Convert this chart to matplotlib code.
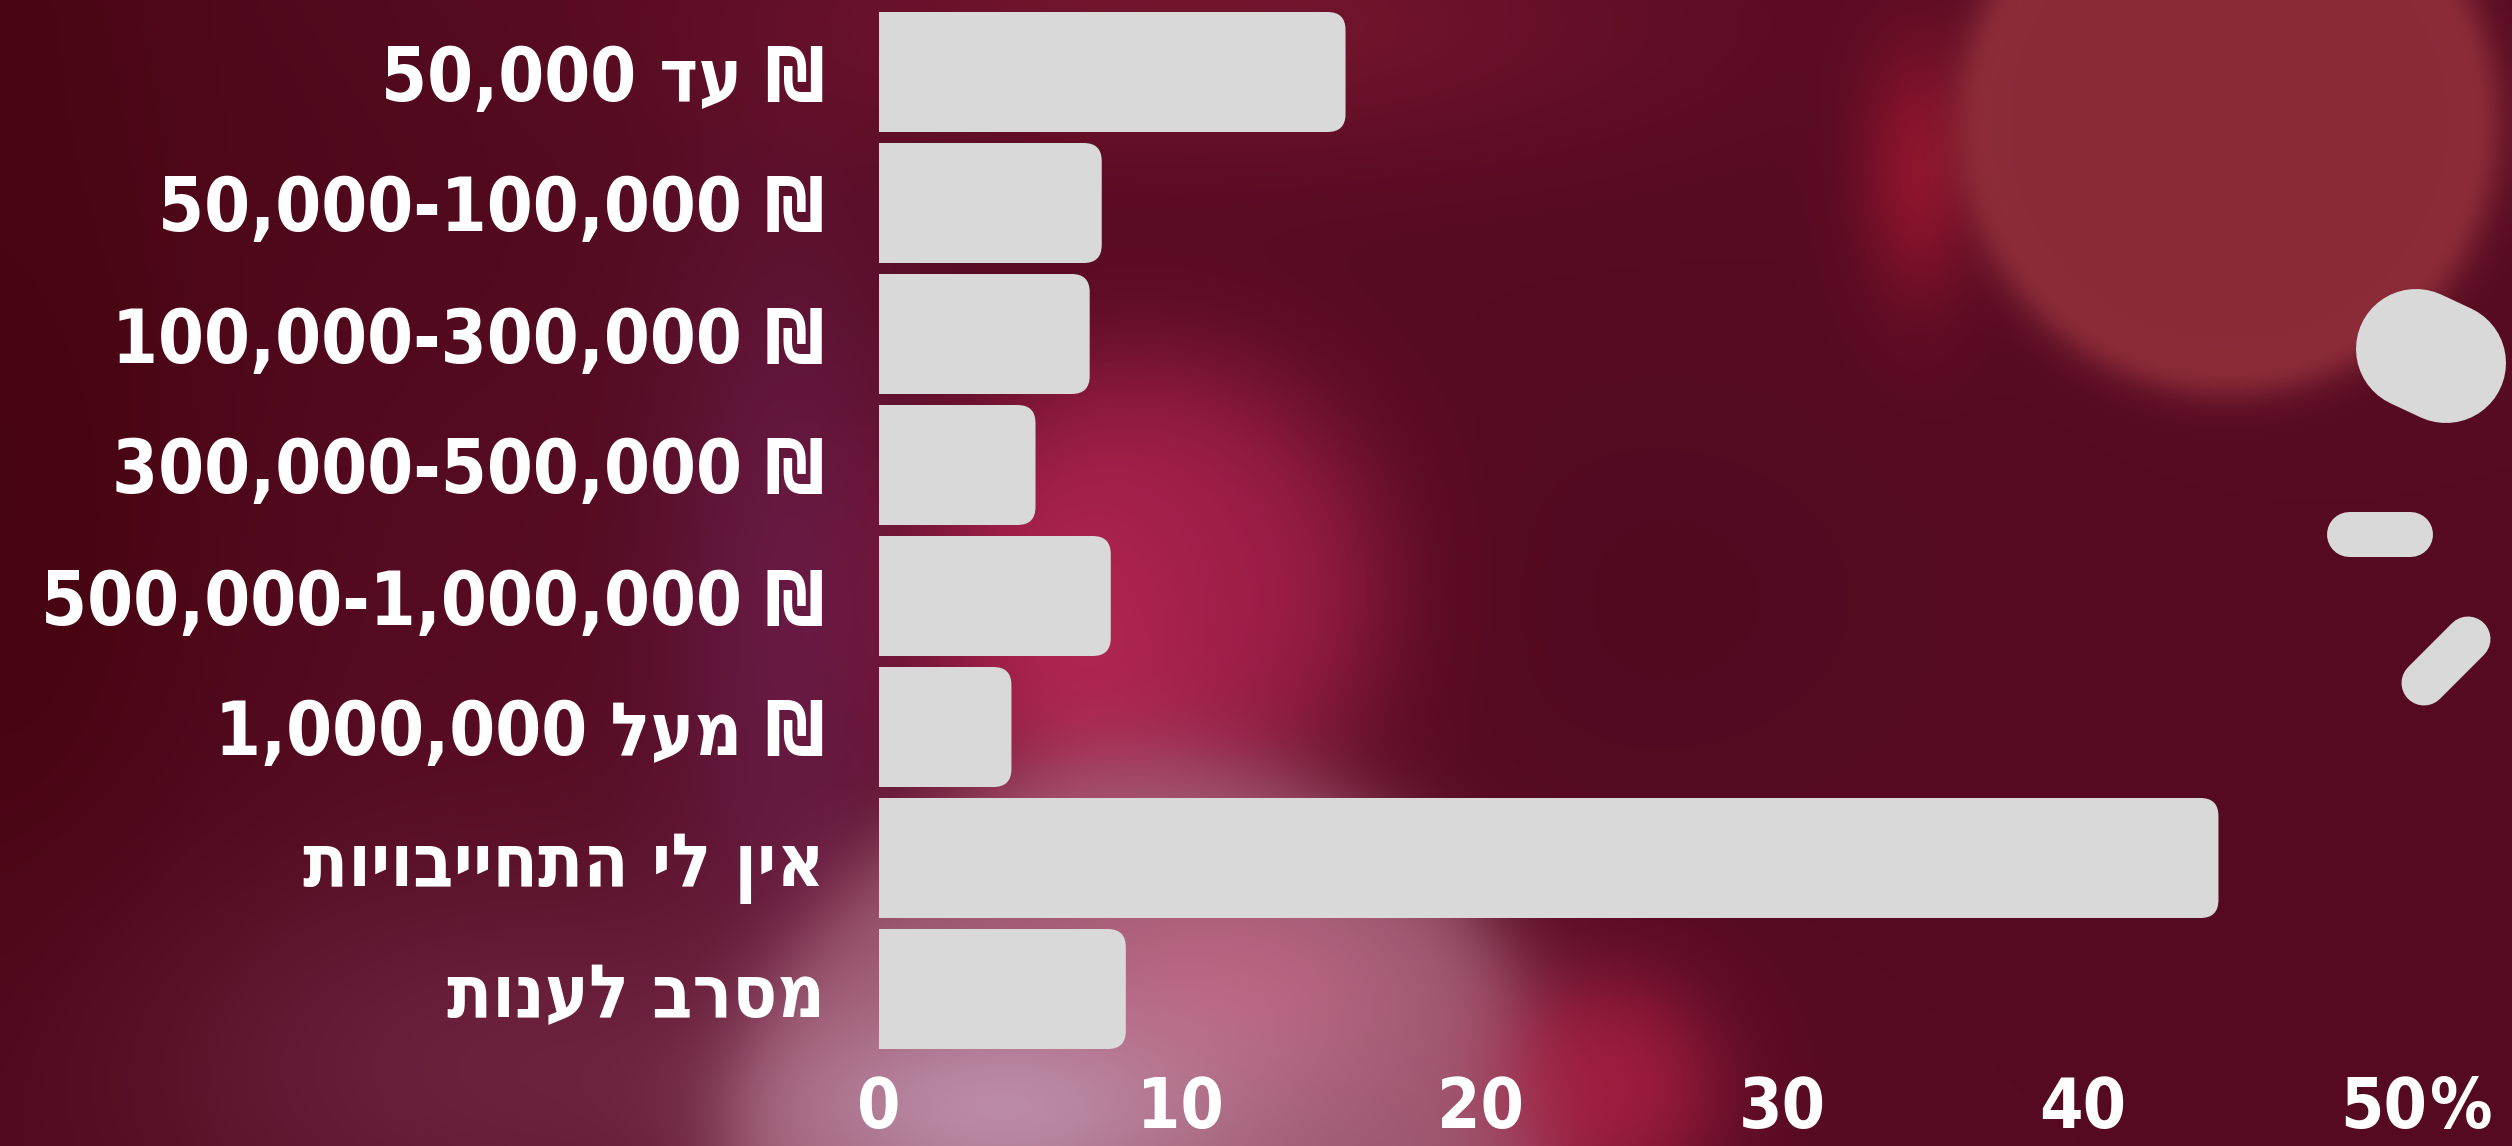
import numpy as np
import matplotlib.pyplot as plt
from matplotlib.patches import FancyBboxPatch
from matplotlib.colors import to_rgb

# labels are stored in visual (left-to-right) order, matplotlib does no bidi
labels = [
    '50,000 דע ₪',
    '50,000-100,000 ₪',
    '100,000-300,000 ₪',
    '300,000-500,000 ₪',
    '500,000-1,000,000 ₪',
    '1,000,000 לעמ ₪',
    'תויובייחתה יל ןיא',
    'תונעל ברסמ',
]
values = [15.5, 7.4, 7.0, 5.2, 7.7, 4.4, 44.5, 8.2]
xticks = [0, 10, 20, 30, 40, 50]

W, H = 2512, 1146
bar_color = '#d9d9d9'
font = dict(family=['DejaVu Sans'], weight='bold', stretch='condensed')

fig = plt.figure(figsize=(W / 100, H / 100), dpi=100)

# ---- background (bokeh style) ----
bg = fig.add_axes([0, 0, 1, 1])
gx, gy = np.meshgrid(np.linspace(0, W, 420), np.linspace(0, H, 192))
img = np.zeros(gx.shape + (3,)) + to_rgb('#560b22')

def mix(w, color):
    global img
    img = img * (1 - w[..., None]) + np.array(to_rgb(color)) * w[..., None]

def blob(cx, cy, sx, sy, color, a):
    mix(a * np.exp(-(((gx - cx) / sx) ** 2 + ((gy - cy) / sy) ** 2)), color)

def disk(cx, cy, r, color, a, soft=12):
    d = np.hypot(gx - cx, gy - cy)
    mix(a / (1 + np.exp((d - r) / soft)), color)

blob(0, 400, 260, 900, '#44020e', 0.8)
blob(300, 150, 400, 250, '#4c0818', 0.5)
blob(790, 620, 130, 420, '#6e2050', 0.7)
blob(1200, 20, 450, 130, '#841a34', 0.65)
blob(1650, 600, 260, 200, '#500820', 0.6)
disk(1150, 590, 220, '#ac2250', 0.85, soft=40)
blob(1080, 650, 110, 180, '#bc2a58', 0.55)
blob(520, 1070, 380, 200, '#7a3050', 0.6)
disk(1150, 1180, 420, '#ac6a82', 0.8, soft=25)
blob(1220, 1000, 200, 120, '#d07090', 0.55)
blob(1000, 1110, 220, 100, '#c49ab5', 0.75)
disk(1610, 1090, 100, '#b02045', 0.8, soft=30)
blob(1920, 170, 60, 130, '#a01830', 0.75)
disk(2231, 121, 266, '#a23a42', 0.9)
disk(2231, 121, 252, '#8a2a38', 1.0)

bg.imshow(img, extent=(0, W, H, 0), interpolation='bicubic', aspect='auto')
bg.set_xlim(0, W)
bg.set_ylim(H, 0)
bg.axis('off')

# decorative icon pieces on the right edge
px = 0.72  # points per pixel at dpi 100
for (x0, y0, x1, y1, t) in [
    (2416, 349, 2446, 363, 120),
    (2349, 534, 2410, 534, 45),
    (2424, 683, 2468, 639, 45),
    (2524, 453, 2560, 453, 52),
    (2520, 908, 2560, 908, 37),
]:
    bg.plot([x0, x1], [y0, y1], color=bar_color, lw=t * px,
            solid_capstyle='round')

# ---- bar chart ----
left, right = 879, 2384
top, pitch = 6.5, 131
ax = fig.add_axes([left / W, (H - top - 8 * pitch) / H,
                   (right - left) / W, 8 * pitch / H])
ax.patch.set_alpha(0)
ax.set_xlim(0, 50)
ax.set_ylim(7.5, -0.5)

px_x = (right - left) / 50
aspect = px_x / pitch
bar_h = 120 / pitch
rad = 18 / px_x
for i, v in enumerate(values):
    ax.add_patch(FancyBboxPatch(
        (-2, i - bar_h / 2), v + 2, bar_h,
        boxstyle=f'round,pad=0,rounding_size={rad}',
        mutation_aspect=aspect, fc=bar_color, ec='none'))

for s in ax.spines.values():
    s.set_visible(False)

ax.set_yticks(range(len(labels)))
ax.set_yticklabels(labels, color='white', fontsize=53, **font)
ax.set_xticks(xticks)
ax.set_xticklabels([str(t) for t in xticks], color='white', fontsize=50, **font)
ax.tick_params(length=0)
ax.tick_params(axis='y', pad=39)
ax.tick_params(axis='x', pad=15)
# percent sign right after the last tick label
ax.annotate('%', xy=(xticks[-1], 0), xycoords=('data', 'axes fraction'),
            xytext=(33, -15), textcoords='offset points', ha='left', va='top',
            color='white', fontsize=50, annotation_clip=False, **font)

fig.savefig('out.png', dpi=100)
